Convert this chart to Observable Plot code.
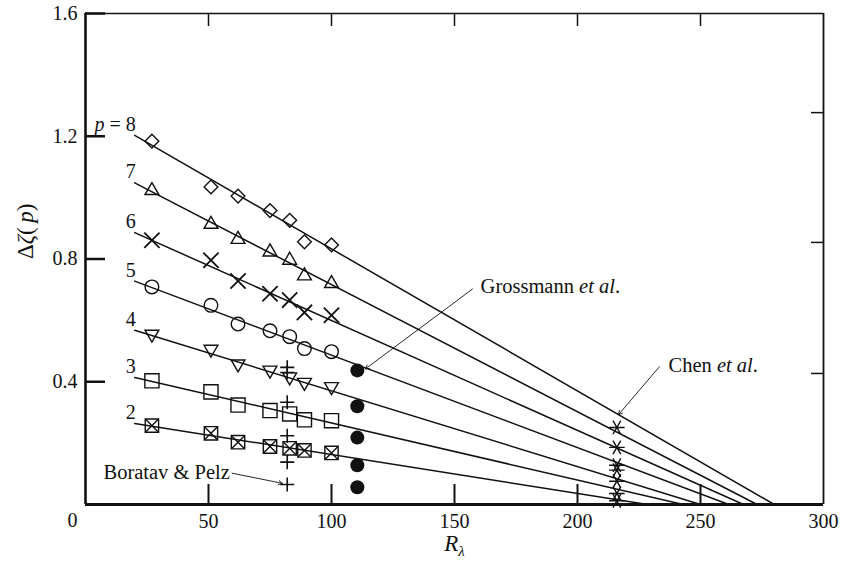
<!DOCTYPE html>
<html><head><meta charset="utf-8">
<script src="https://cdn.jsdelivr.net/npm/d3@7"></script>
<script src="https://cdn.jsdelivr.net/npm/@observablehq/plot@0.6"></script>
<style>
html,body{margin:0;padding:0;background:#fff;}
</style>
</head><body><div id="chart"></div>
<script>
// ---------- data ----------
const reX = [27, 51, 62, 75, 83, 89, 100];           // R_lambda of DNS points
const p8 = [1.184, 1.035, 1.005, 0.958, 0.926, 0.856, 0.846];
const p7 = [1.023, 0.913, 0.864, 0.823, 0.796, 0.745, 0.720];
const p6 = [0.861, 0.796, 0.728, 0.687, 0.666, 0.626, 0.617];
const p5 = [0.709, 0.649, 0.588, 0.566, 0.547, 0.508, 0.498];
const p4 = [0.555, 0.506, 0.458, 0.438, 0.416, 0.398, 0.384];
const p3 = [0.403, 0.367, 0.324, 0.306, 0.295, 0.276, 0.273];
const p2 = [0.257, 0.232, 0.203, 0.189, 0.183, 0.176, 0.168];

const orders = [8, 7, 6, 5, 4, 3, 2];
const orderLabels = ["p = 8", "7", "6", "5", "4", "3", "2"];
const fitStartX = 20;
const fitStartY = [1.203, 1.048, 0.886, 0.728, 0.568, 0.414, 0.264];
const fitZeroX = [280, 273, 267.5, 261.5, 250, 243, 228.5];

const boratavX = 82;
const boratavY = [0.447, 0.430, 0.333, 0.224, 0.138, 0.065];
const grossmannX = 110.5;
const grossmannY = [0.437, 0.320, 0.218, 0.128, 0.056];
const chenX = 216;
const chenY = [0.251, 0.186, 0.128, 0.112, 0.076, 0.036, 0.012];

const annotations = ["Grossmann et al.", "Chen et al.", "Boratav & Pelz"];
const annotX = [160.6, 237, 7.3];
const annotY = [0.712, 0.452, 0.105];
const arrowFromX = [157.3, 233.3, 59.6];
const arrowFromY = [0.702, 0.449, 0.102];
const arrowToX = [113.8, 216.7, 80];
const arrowToY = [0.442, 0.293, 0.069];

const xTicks = [50, 100, 150, 200, 250];
const xTickLabels = [50, 100, 150, 200, 250, 300];
const yTicks = [0.4, 0.8, 1.2, 1.6];
const yTickLabels = ["0.4", "0.8", "1.2", "1.6"];
const rightTicks = [0.427, 0.854, 1.277];

// ---------- layout ----------
const W = 846, H = 567;
const mL = 85, mR = 23, mT = 13, mB = 63;
const yPerPx = 1.6 / (H - mT - mB);
const xPerPx = 300 / (W - mL - mR);
const font = "Liberation Serif";
const ink = "#111";

const pts = (ys) => ys.map((y, i) => ({x: reX[i], y}));
const fitLines = orders.flatMap((p, i) => [
  {p, x: fitStartX, y: fitStartY[i]},
  {p, x: fitZeroX[i], y: 0}
]);
const labelRows = orders.map((p, i) => ({x: fitStartX, y: fitStartY[i], t: orderLabels[i]}));

const triDown = {draw(ctx, size) {
  const r = Math.sqrt(size) * 0.6824, t = r / 2, u = r * Math.sqrt(3) / 2;
  ctx.moveTo(0, r); ctx.lineTo(-u, -t); ctx.lineTo(u, -t); ctx.closePath();
}};
const starH = {draw(ctx, size) {
  const r = Math.sqrt(size + Math.min(size / 28, 0.75)) * 0.59436, t = r / 2, u = t * Math.sqrt(3);
  ctx.moveTo(r, 0); ctx.lineTo(-r, 0);
  ctx.moveTo(-t, -u); ctx.lineTo(t, u);
  ctx.moveTo(-t, u); ctx.lineTo(t, -u);
}};

const mk = {stroke: ink, fill: "none", strokeWidth: 1.4};

const chart = Plot.plot({
  width: W, height: H,
  marginLeft: mL, marginRight: mR, marginTop: mT, marginBottom: mB,
  x: {domain: [0, 300], axis: null},
  y: {domain: [0, 1.6], axis: null},
  style: {background: "white", fontFamily: font, color: ink},
  marks: [
    // fitted lines
    Plot.line(fitLines, {x: "x", y: "y", z: "p", stroke: ink, strokeWidth: 1.5}),
    // DNS markers
    Plot.dot(pts(p8), {x: "x", y: "y", symbol: "diamond2", r: 6.2, ...mk}),
    Plot.dot(pts(p7), {x: "x", y: "y", symbol: "triangle2", r: 6.6, ...mk}),
    Plot.dot(pts(p6), {x: "x", y: "y", symbol: "times", r: 7, ...mk, strokeWidth: 1.8}),
    Plot.dot(pts(p5), {x: "x", y: "y", symbol: "circle", r: 6.8, ...mk}),
    Plot.dot(pts(p4), {x: "x", y: "y", symbol: triDown, r: 6.6, ...mk}),
    Plot.dot(pts(p3), {x: "x", y: "y", symbol: "square2", r: 9, ...mk}),
    Plot.dot(pts(p2), {x: "x", y: "y", symbol: "square2", r: 8.5, ...mk}),
    Plot.dot(pts(p2), {x: "x", y: "y", symbol: "times", r: 5.8, ...mk}),
    // other data sets
    Plot.dot(boratavY, {x: () => boratavX, y: d => d, symbol: "plus", r: 4.6, ...mk, strokeWidth: 1.6}),
    Plot.dot(grossmannY, {x: () => grossmannX, y: d => d, r: 7, fill: ink, stroke: "none"}),
    Plot.dot(chenY, {x: () => chenX, y: d => d, symbol: starH, r: 7.4, ...mk, strokeWidth: 1.4}),
    // frame
    Plot.ruleX([0], {stroke: ink, strokeWidth: 2.6}),
    Plot.ruleX([300], {stroke: ink, strokeWidth: 1.8}),
    Plot.ruleY([0], {stroke: ink, strokeWidth: 3}),
    Plot.ruleY([1.6], {stroke: ink, strokeWidth: 1.5}),
    // ticks
    Plot.ruleX(xTicks, {x: d => d, y1: 0, y2: 20 * yPerPx, stroke: ink, strokeWidth: 2}),
    Plot.ruleX(xTicks, {x: d => d, y1: 1.6, y2: 1.6 - 13 * yPerPx, stroke: ink, strokeWidth: 1.5}),
    Plot.ruleY(yTicks, {y: d => d, x1: 0, x2: 20 * xPerPx, stroke: ink, strokeWidth: 2.5}),
    Plot.ruleY(rightTicks, {y: d => d, x1: 300 - 12 * xPerPx, x2: 300, stroke: ink, strokeWidth: 1.5}),
    // tick labels
    Plot.text(xTickLabels, {x: d => d, y: 0, text: d => String(d), dy: 17, fontSize: 20, fill: ink}),
    Plot.text(yTickLabels, {x: 0, y: d => +d, text: d => d, dx: -8, textAnchor: "end", fontSize: 20, fill: ink}),
    Plot.text(["0"], {x: 0, y: 0, text: d => d, dx: -8, dy: 16, textAnchor: "end", fontSize: 20, fill: ink}),
    // order labels
    Plot.text(labelRows, {x: "x", y: "y", text: "t", dx: 1, dy: -11, textAnchor: "end", fontSize: 20, fill: ink}),
    // annotations
    Plot.arrow(annotations, {x1: (d, i) => arrowFromX[i], y1: (d, i) => arrowFromY[i],
      x2: (d, i) => arrowToX[i], y2: (d, i) => arrowToY[i], stroke: ink, strokeWidth: 0.9, headLength: 7}),
    Plot.text(annotations, {x: (d, i) => annotX[i], y: (d, i) => annotY[i], text: d => d,
      textAnchor: "start", fontSize: 20.5, fill: ink}),
    // axis titles
    Plot.text(["Rλ"], {frameAnchor: "bottom", text: d => d, dy: 46, fontSize: 23, fill: ink}),
    Plot.text(["Δζ(p)"], {frameAnchor: "left", text: d => d, dx: -60, rotate: -90, fontSize: 23, fill: ink})
  ]
});

// rich text: italics / subscripts
const NS = "http://www.w3.org/2000/svg";
function rebuild(t, parts) {
  t.textContent = "";
  for (const [s, st] of parts) {
    const ts = document.createElementNS(NS, "tspan");
    ts.textContent = s;
    if (st && st.italic) ts.setAttribute("font-style", "italic");
    if (st && st.size) ts.setAttribute("font-size", st.size);
    if (st && st.dy != null) ts.setAttribute("dy", st.dy);
    t.appendChild(ts);
  }
}
chart.querySelectorAll("text").forEach(t => {
  const s = t.textContent;
  if (s === "p = 8") rebuild(t, [["p", {italic: true}], [" = 8"]]);
  else if (s === "Grossmann et al.") rebuild(t, [["Grossmann "], ["et al", {italic: true}], ["."]]);
  else if (s === "Chen et al.") rebuild(t, [["Chen "], ["et al", {italic: true}], ["."]]);
  else if (s === "Rλ") rebuild(t, [["R", {italic: true}], ["λ", {italic: true, size: 15, dy: 5}]]);
  else if (s === "Δζ(p)") rebuild(t, [["Δ"], ["ζ", {italic: true}], ["(\u2009"], ["p", {italic: true}], [")"]]);
});

document.getElementById("chart").appendChild(chart);
</script>
</body></html>
